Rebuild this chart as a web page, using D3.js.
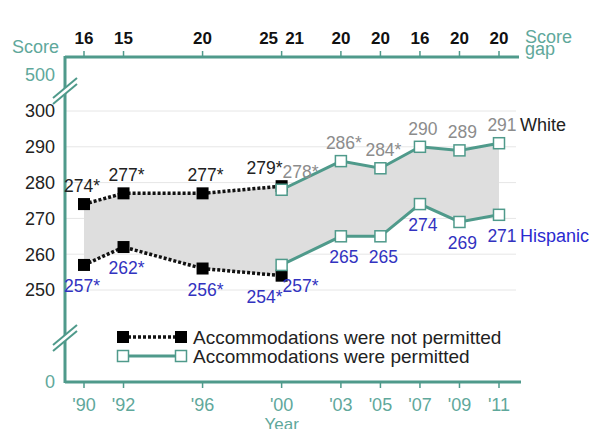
<!DOCTYPE html>
<meta charset="utf-8">
<html>
<head>
<style>
  body { margin: 0; background: #fff; }
  text { font-family: "Liberation Sans", Arial, sans-serif; }
</style>
</head>
<body>
<script src="https://d3js.org/d3.v7.min.js"></script>
<script>

// years and values
var yearsBefore = [1990, 1992, 1996, 2000];
var yearsAfter = [2000, 2003, 2005, 2007, 2009, 2011];
var whiteBefore = [274, 277, 277, 279];
var hispBefore = [257, 262, 256, 254];
var whiteAfter = [278, 286, 284, 290, 289, 291];
var hispAfter = [257, 265, 265, 274, 269, 271];
var whiteBeforeLbl = ["274*", "277*", "277*", "279*"];
var hispBeforeLbl = ["257*", "262*", "256*", "254*"];
var whiteAfterLbl = ["278*", "286*", "284*", "290", "289", "291"];
var hispAfterLbl = ["257*", "265", "265", "274", "269", "271"];
var gapYears = [1990, 1992, 1996, 2000, 2000, 2003, 2005, 2007, 2009, 2011];
var gapValues = [16, 15, 20, 25, 21, 20, 20, 16, 20, 20];
var yTicks = [0, 250, 260, 270, 280, 290, 300, 500];
var gridTicks = [250, 260, 270, 280, 290, 300];
var xTickLabels = ["'90", "'92", "'96", "'00", "'03", "'05", "'07", "'09", "'11"];
var xTickYears = [1990, 1992, 1996, 2000, 2003, 2005, 2007, 2009, 2011];
var legendLabels = ["Accommodations were not permitted", "Accommodations were permitted"];

var teal = "#4f9a8b", tealText = "#5fa89b", blue = "#3232c0", grayLbl = "#8c8c8c";

var svg = d3.select("body").append("svg")
  .attr("width", 595)
  .attr("height", 429);

var x = d3.scaleLinear().domain([1990, 2011]).range([84, 499]);
// broken axis: 0 .. 250 and 300 .. 500 squeezed
var y = d3.scaleLinear().domain([0, 250, 300, 500]).range([382, 290, 111, 75]);

var axLeft = 65, axRight = 519, axTop = 57, axBottom = 382;

// gridlines
svg.append("g")
  .selectAll("line").data(gridTicks).enter().append("line")
  .attr("x1", axLeft).attr("x2", 516)
  .attr("y1", d => y(d)).attr("y2", d => y(d))
  .attr("stroke", "#e6e6e6").attr("stroke-width", 1);

// shaded gap area
var areaData = yearsBefore.map((d, i) => ({ yr: d, w: whiteBefore[i], h: hispBefore[i] }))
  .concat(yearsAfter.map((d, i) => ({ yr: d, w: whiteAfter[i], h: hispAfter[i] })));
svg.append("path")
  .datum(areaData)
  .attr("fill", "#dedede")
  .attr("d", d3.area().x(d => x(d.yr)).y0(d => y(d.h)).y1(d => y(d.w)));

// frame: left axis, top axis, bottom axis
svg.append("line").attr("x1", axLeft).attr("x2", axLeft).attr("y1", axTop - 1).attr("y2", axBottom + 1)
  .attr("stroke", teal).attr("stroke-width", 3);
svg.append("line").attr("x1", axLeft).attr("x2", axRight).attr("y1", axTop).attr("y2", axTop)
  .attr("stroke", teal).attr("stroke-width", 3);
svg.append("line").attr("x1", axLeft).attr("x2", axRight + 2).attr("y1", axBottom).attr("y2", axBottom)
  .attr("stroke", teal).attr("stroke-width", 3);

// ticks
svg.append("g").selectAll("line").data(xTickYears).enter().append("line")
  .attr("x1", d => x(d)).attr("x2", d => x(d))
  .attr("y1", axTop).attr("y2", axTop - 6)
  .attr("stroke", teal).attr("stroke-width", 1.5);
svg.append("g").selectAll("line").data(xTickYears).enter().append("line")
  .attr("x1", d => x(d)).attr("x2", d => x(d))
  .attr("y1", axBottom).attr("y2", axBottom + 6)
  .attr("stroke", teal).attr("stroke-width", 1.5);

// axis break marks
[(y(500) + y(300)) / 2 - 5, (y(250) + y(0)) / 2 - 1].forEach(function (cy) {
  svg.append("polygon")
    .attr("points", [[axLeft - 12, cy + 10], [axLeft + 12, cy - 10], [axLeft + 12, cy - 4], [axLeft - 12, cy + 16]].join(" "))
    .attr("fill", "#fff");
  [0, 6].forEach(function (o) {
    svg.append("line")
      .attr("x1", axLeft - 12).attr("y1", cy + 10 + o)
      .attr("x2", axLeft + 12).attr("y2", cy - 10 + o)
      .attr("stroke", teal).attr("stroke-width", 2);
  });
});

// y tick labels
svg.append("g").selectAll("text").data(yTicks).enter().append("text")
  .attr("x", 55).attr("y", d => y(d)).attr("dy", "0.35em")
  .attr("text-anchor", "end")
  .style("font-size", "18px")
  .attr("fill", d => (d === 0 || d === 500) ? tealText : "#222")
  .text(d => d);

// x tick labels
svg.append("g").selectAll("text").data(xTickYears).enter().append("text")
  .attr("x", d => x(d)).attr("y", 411)
  .attr("text-anchor", "middle")
  .style("font-size", "18px")
  .attr("fill", tealText)
  .text((d, i) => xTickLabels[i]);
svg.append("text").attr("x", x(2000)).attr("y", 430).attr("text-anchor", "middle")
  .style("font-size", "17px").attr("fill", tealText).text("Year");

// score gap numbers
svg.append("g").selectAll("text").data(gapValues).enter().append("text")
  .attr("x", (d, i) => x(gapYears[i]) + (i === 3 ? -13 : i === 4 ? 13 : 0))
  .attr("y", 44)
  .attr("text-anchor", "middle")
  .style("font-size", "17px").style("font-weight", "bold")
  .attr("fill", "#111")
  .text(d => d);
svg.append("text").attr("x", 12).attr("y", 53).style("font-size", "18px").attr("fill", tealText).text("Score");
svg.append("text").attr("x", 525).attr("y", 43).style("font-size", "18px").attr("fill", tealText).text("Score");
svg.append("text").attr("x", 525).attr("y", 55).style("font-size", "18px").attr("fill", tealText).text("gap");

// lines
var line = d3.line().x(d => x(d[0])).y(d => y(d[1]));
function drawSeries(years, vals, permitted) {
  var pts = years.map((d, i) => [d, vals[i]]);
  svg.append("path").datum(pts)
    .attr("fill", "none")
    .attr("stroke", permitted ? teal : "#111")
    .attr("stroke-width", permitted ? 3 : 3.5)
    .attr("stroke-dasharray", permitted ? null : "3,2")
    .attr("d", line);
  svg.append("g").selectAll("rect").data(pts).enter().append("rect")
    .attr("x", d => x(d[0]) - (permitted ? 5.5 : 6))
    .attr("y", d => y(d[1]) - (permitted ? 5.5 : 6))
    .attr("width", permitted ? 11 : 12).attr("height", permitted ? 11 : 12)
    .attr("fill", permitted ? "#fff" : "#000")
    .attr("stroke", permitted ? teal : "none")
    .attr("stroke-width", 1.5);
}
drawSeries(yearsBefore, whiteBefore, false);
drawSeries(yearsBefore, hispBefore, false);
drawSeries(yearsAfter, whiteAfter, true);
drawSeries(yearsAfter, hispAfter, true);

// data labels
function labels(years, vals, lbls, color, above, side) {
  svg.append("g").selectAll("text").data(vals).enter().append("text")
    .attr("x", (d, i) => {
      var px = x(years[i]);
      if (years[i] === 2000) return px + 1;
      if (years[i] === 1990) return px - 2;
      return px + 3;
    })
    .attr("y", d => y(d) + (above ? -12 : 27))
    .attr("text-anchor", (d, i) => years[i] === 2000 ? (side === "before" ? "end" : "start") : "middle")
    .style("font-size", "17.5px")
    .attr("fill", color)
    .text((d, i) => lbls[i]);
}
labels(yearsBefore, whiteBefore, whiteBeforeLbl, "#222", true, "before");
labels(yearsBefore, hispBefore, hispBeforeLbl, blue, false, "before");
labels(yearsAfter, whiteAfter, whiteAfterLbl, grayLbl, true, "after");
labels(yearsAfter, hispAfter, hispAfterLbl, blue, false, "after");

svg.append("text").attr("x", 520).attr("y", y(291) - 12).style("font-size", "18px").attr("fill", "#222").text("White");
svg.append("text").attr("x", 520).attr("y", y(271) + 27).style("font-size", "18px").attr("fill", "#2a2ad0").text("Hispanic");

// legend
var legend = svg.append("g").selectAll("g").data(legendLabels).enter().append("g")
  .attr("transform", (d, i) => "translate(0," + (337 + i * 19) + ")");
legend.append("line")
  .attr("x1", 123).attr("x2", 181).attr("y1", 0).attr("y2", 0)
  .attr("stroke", (d, i) => i ? teal : "#111")
  .attr("stroke-width", (d, i) => i ? 3 : 3.5)
  .attr("stroke-dasharray", (d, i) => i ? null : "3,2");
[123, 181].forEach(function (cx) {
  legend.append("rect")
    .attr("x", (d, i) => cx - (i ? 5.5 : 6)).attr("y", (d, i) => i ? -5.5 : -6)
    .attr("width", (d, i) => i ? 11 : 12).attr("height", (d, i) => i ? 11 : 12)
    .attr("fill", (d, i) => i ? "#fff" : "#000")
    .attr("stroke", (d, i) => i ? teal : "none").attr("stroke-width", 1.5);
});
legend.append("text")
  .attr("x", 193).attr("y", 0).attr("dy", "0.35em")
  .style("font-size", "19px").attr("fill", "#222")
  .text(d => d);

</script>
</body>
</html>
